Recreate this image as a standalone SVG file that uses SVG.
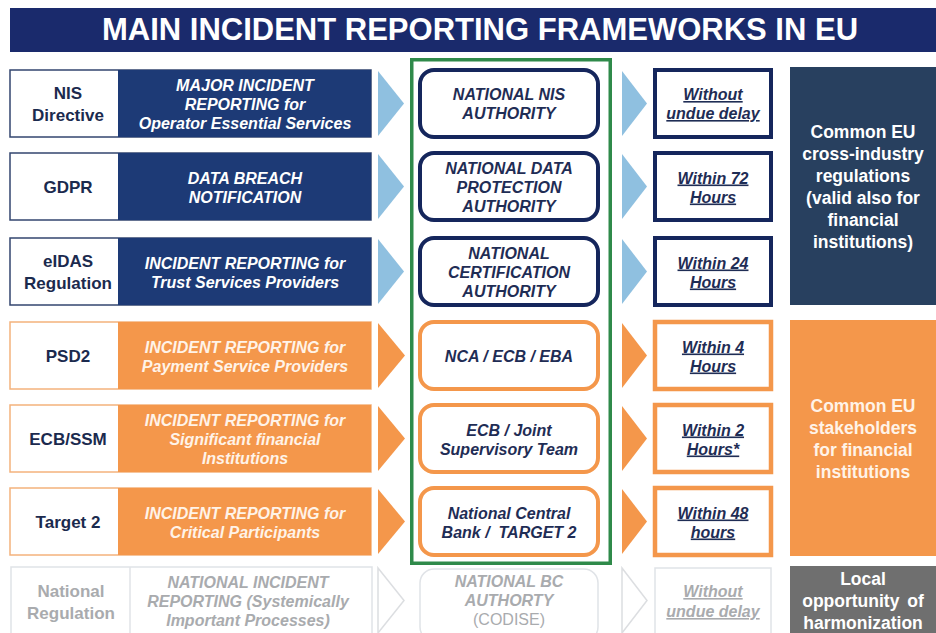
<svg xmlns="http://www.w3.org/2000/svg" width="936" height="633" viewBox="0 0 936 633">
  <style>
    text{font-family:"Liberation Sans",Arial,sans-serif;font-weight:bold;text-anchor:middle}
    .lbl{font-size:17px;fill:#1b2a4e}
    .band{font-size:16px;font-style:italic;fill:#ffffff}
    .band-o{font-size:16px;font-style:italic;fill:#fff3e8}
    .auth{font-size:16px;font-style:italic;fill:#1f2d55}
    .time{font-size:16px;font-style:italic;fill:#1f2d55;text-decoration:underline}
    .side{font-size:17.5px;fill:#ffffff}
    .side-o{font-size:17.5px;fill:#fff3e8}
    .fade{fill:#a9abae}
    .row-b{fill:#ffffff;stroke:#33466f;stroke-width:1.5}
    .row-o{fill:#ffffff;stroke:#f4b27c;stroke-width:1.5}
    .auth-b{fill:#ffffff;stroke:#15265c;stroke-width:4}
    .auth-o{fill:#ffffff;stroke:#f4974b;stroke-width:4}
    .time-b{fill:#ffffff;stroke:#15265c;stroke-width:4}
    .time-o{fill:#ffffff;stroke:#f4974b;stroke-width:4.5}
    .faint{fill:#ffffff;stroke:#e0e3e7;stroke-width:1.5}
    .arr-b{fill:#8fc0e0}
    .arr-o{fill:#f4974b}
    .arr-f{fill:#ffffff;stroke:#dcdee1;stroke-width:1.5}
  </style>

  <rect width="936" height="633" fill="#ffffff"/>

  <!-- title bar -->
  <g id="title">
    <rect x="10" y="8" width="926" height="44" fill="#1a2a6c"/>
    <text x="480" y="40" style="font-size:31px;fill:#ffffff">MAIN INCIDENT REPORTING FRAMEWORKS IN EU</text>
  </g>

  <!-- framework rows -->
  <g id="row-nis">
    <rect class="row-b" x="10" y="70" width="361" height="67"/>
    <rect x="118" y="70" width="253" height="67" fill="#1d3a76"/>
    <text class="lbl" x="68" y="99">NIS</text>
    <text class="lbl" x="68" y="121">Directive</text>
    <text class="band" x="245" y="90.5">MAJOR INCIDENT</text>
    <text class="band" x="245" y="109.5">REPORTING for</text>
    <text class="band" x="245" y="128.5">Operator Essential Services</text>
  </g>
  <g id="row-gdpr">
    <rect class="row-b" x="10" y="153" width="361" height="67"/>
    <rect x="118" y="153" width="253" height="67" fill="#1d3a76"/>
    <text class="lbl" x="68" y="193">GDPR</text>
    <text class="band" x="245" y="184">DATA BREACH</text>
    <text class="band" x="245" y="203">NOTIFICATION</text>
  </g>
  <g id="row-eidas">
    <rect class="row-b" x="10" y="238" width="361" height="67"/>
    <rect x="118" y="238" width="253" height="67" fill="#1d3a76"/>
    <text class="lbl" x="68" y="267">eIDAS</text>
    <text class="lbl" x="68" y="289">Regulation</text>
    <text class="band" x="245" y="269">INCIDENT REPORTING for</text>
    <text class="band" x="245" y="288">Trust Services Providers</text>
  </g>
  <g id="row-psd2">
    <rect class="row-o" x="10" y="322" width="361" height="67"/>
    <rect x="118" y="322" width="253" height="67" fill="#f4974b"/>
    <text class="lbl" x="68" y="361.5">PSD2</text>
    <text class="band-o" x="245" y="353">INCIDENT REPORTING for</text>
    <text class="band-o" x="245" y="372">Payment Service Providers</text>
  </g>
  <g id="row-ecb-ssm">
    <rect class="row-o" x="10" y="405" width="361" height="67"/>
    <rect x="118" y="405" width="253" height="67" fill="#f4974b"/>
    <text class="lbl" x="68" y="444.5">ECB/SSM</text>
    <text class="band-o" x="245" y="425.5">INCIDENT REPORTING for</text>
    <text class="band-o" x="245" y="444.5">Significant financial</text>
    <text class="band-o" x="245" y="463.5">Institutions</text>
  </g>
  <g id="row-target2">
    <rect class="row-o" x="10" y="488" width="361" height="67"/>
    <rect x="118" y="488" width="253" height="67" fill="#f4974b"/>
    <text class="lbl" x="68" y="527.5">Target 2</text>
    <text class="band-o" x="245" y="519">INCIDENT REPORTING for</text>
    <text class="band-o" x="245" y="538">Critical Participants</text>
  </g>
  <g id="row-national">
    <rect class="faint" x="11" y="567" width="361" height="72"/>
    <line x1="130" y1="567" x2="130" y2="633" stroke="#e0e3e7" stroke-width="1.5"/>
    <text class="lbl fade" x="71" y="597">National</text>
    <text class="lbl fade" x="71" y="619">Regulation</text>
    <text class="band fade" x="248" y="587.5">NATIONAL INCIDENT</text>
    <text class="band fade" x="248" y="606.5">REPORTING (Systemically</text>
    <text class="band fade" x="248" y="625.5">Important Processes)</text>
  </g>

  <!-- reporting authorities -->
  <g id="authorities-frame">
    <rect x="411.75" y="59.75" width="198.5" height="503.5" fill="none" stroke="#2f8a4a" stroke-width="3.5"/>
  </g>
  <g id="auth-nis">
    <rect class="auth-b" x="420" y="70" width="178" height="67" rx="14"/>
    <text class="auth" x="509" y="100">NATIONAL NIS</text>
    <text class="auth" x="509" y="119">AUTHORITY</text>
  </g>
  <g id="auth-dpa">
    <rect class="auth-b" x="420" y="153" width="178" height="67" rx="14"/>
    <text class="auth" x="509" y="173.5">NATIONAL DATA</text>
    <text class="auth" x="509" y="192.5">PROTECTION</text>
    <text class="auth" x="509" y="211.5">AUTHORITY</text>
  </g>
  <g id="auth-cert">
    <rect class="auth-b" x="420" y="238" width="178" height="67" rx="14"/>
    <text class="auth" x="509" y="258.5">NATIONAL</text>
    <text class="auth" x="509" y="277.5">CERTIFICATION</text>
    <text class="auth" x="509" y="296.5">AUTHORITY</text>
  </g>
  <g id="auth-nca">
    <rect class="auth-o" x="420" y="322" width="178" height="67" rx="14"/>
    <text class="auth" x="509" y="361.5">NCA / ECB / EBA</text>
  </g>
  <g id="auth-jst">
    <rect class="auth-o" x="420" y="405" width="178" height="67" rx="14"/>
    <text class="auth" x="509" y="436">ECB / Joint</text>
    <text class="auth" x="509" y="455">Supervisory Team</text>
  </g>
  <g id="auth-ncb">
    <rect class="auth-o" x="420" y="488" width="178" height="67" rx="14"/>
    <text class="auth" x="509" y="518.5">National Central</text>
    <text class="auth" x="509" y="537.5" xml:space="preserve">Bank /  TARGET 2</text>
  </g>
  <g id="auth-codise">
    <rect class="faint" x="420" y="569" width="178" height="72" rx="14"/>
    <text class="auth fade" x="509" y="587">NATIONAL BC</text>
    <text class="auth fade" x="509" y="606">AUTHORTY</text>
    <text class="auth fade" x="509" y="625" style="font-weight:normal;font-style:normal">(CODISE)</text>
  </g>

  <!-- reporting deadlines -->
  <g id="time-nis">
    <rect class="time-b" x="655" y="70" width="116" height="67"/>
    <text class="time" x="713" y="100">Without</text>
    <text class="time" x="713" y="119">undue delay</text>
  </g>
  <g id="time-gdpr">
    <rect class="time-b" x="655" y="153" width="116" height="67"/>
    <text class="time" x="713" y="183.5">Within 72</text>
    <text class="time" x="713" y="202.5">Hours</text>
  </g>
  <g id="time-eidas">
    <rect class="time-b" x="655" y="238" width="116" height="67"/>
    <text class="time" x="713" y="268.5">Within 24</text>
    <text class="time" x="713" y="287.5">Hours</text>
  </g>
  <g id="time-psd2">
    <rect class="time-o" x="655" y="322" width="116" height="67"/>
    <text class="time" x="713" y="352.5">Within 4</text>
    <text class="time" x="713" y="371.5">Hours</text>
  </g>
  <g id="time-ecb-ssm">
    <rect class="time-o" x="655" y="405" width="116" height="67"/>
    <text class="time" x="713" y="435.5">Within 2</text>
    <text class="time" x="713" y="454.5">Hours*</text>
  </g>
  <g id="time-target2">
    <rect class="time-o" x="655" y="488" width="116" height="67"/>
    <text class="time" x="713" y="518.5">Within 48</text>
    <text class="time" x="713" y="537.5">hours</text>
  </g>
  <g id="time-national">
    <rect class="faint" x="655" y="568" width="116" height="72"/>
    <text class="time fade" x="713" y="597">Without</text>
    <text class="time fade" x="713" y="617">undue delay</text>
  </g>

  <!-- scope summaries -->
  <g id="scope-cross-industry">
    <rect x="790" y="67" width="146" height="238" fill="#28405f"/>
    <text class="side" x="863" y="137.5">Common EU</text>
    <text class="side" x="863" y="159.5">cross-industry</text>
    <text class="side" x="863" y="181.5">regulations</text>
    <text class="side" x="863" y="203.5">(valid also for</text>
    <text class="side" x="863" y="225.5">financial</text>
    <text class="side" x="863" y="247.5">institutions)</text>
  </g>
  <g id="scope-financial">
    <rect x="790" y="320" width="146" height="236" fill="#f4974b"/>
    <text class="side-o" x="863" y="411.5">Common EU</text>
    <text class="side-o" x="863" y="433.5">stakeholders</text>
    <text class="side-o" x="863" y="455.5">for financial</text>
    <text class="side-o" x="863" y="477.5">institutions</text>
  </g>
  <g id="scope-local">
    <rect x="790" y="566" width="146" height="67" fill="#6f6f6f"/>
    <text class="side" x="863" y="584.5">Local</text>
    <text class="side" x="863" y="606.5" style="word-spacing:3px">opportunity of</text>
    <text class="side" x="863" y="628.5">harmonization</text>
  </g>

  <!-- connectors: chevrons between columns -->
  <g id="connectors">
    <polygon class="arr-b" points="378,71 404,103.5 378,136"/>
    <polygon class="arr-b" points="378,154 404,186.5 378,219"/>
    <polygon class="arr-b" points="378,239 404,271.5 378,304"/>
    <polygon class="arr-o" points="378,323 405,355.5 378,388"/>
    <polygon class="arr-o" points="378,406 405,438.5 378,471"/>
    <polygon class="arr-o" points="378,489 405,521.5 378,554"/>
    <polygon class="arr-f" points="378,568 404,600.5 378,633"/>

    <polygon class="arr-b" points="622,71 647,103.5 622,136"/>
    <polygon class="arr-b" points="622,154 647,186.5 622,219"/>
    <polygon class="arr-b" points="622,239 647,271.5 622,304"/>
    <polygon class="arr-o" points="622,323 647,355.5 622,388"/>
    <polygon class="arr-o" points="622,406 647,438.5 622,471"/>
    <polygon class="arr-o" points="622,489 647,521.5 622,554"/>
    <polygon class="arr-f" points="622,568 647,600.5 622,633"/>
  </g>
</svg>
